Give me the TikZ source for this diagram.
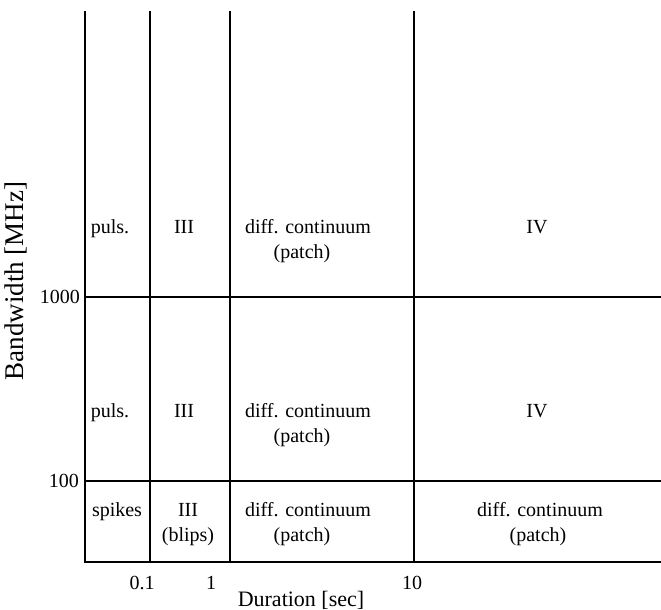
\documentclass[tikz,border=0pt]{standalone}
\usepackage{fontspec}
\setmainfont{Liberation Serif}
\begin{document}
\begin{tikzpicture}[x=1pt,y=-1pt,
  grid/.style={line width=1.6pt,line cap=rect},
  lbl/.style={font=\fontsize{20}{22}\selectfont,inner sep=0pt,anchor=base},
  tick/.style={font=\fontsize{20}{22}\selectfont,inner sep=0pt},
  axlbl/.style={font=\fontsize{22}{24}\selectfont,inner sep=0pt}]
\useasboundingbox (0,0) rectangle (661,610);
% grid
\draw[grid] (85,12) -- (85,562) -- (661,562);
\draw[grid] (150,12) -- (150,562);
\draw[grid] (230,12) -- (230,562);
\draw[grid] (414,12) -- (414,562);
\draw[grid] (85,297) -- (661,297);
\draw[grid] (85,481) -- (661,481);
% row 1
\node[lbl] (p1) at (110,233) {puls.};
\node[lbl] (t1) at (184,233) {III};
\node[lbl] (d1) at (308,233) {diff. continuum};
\node[lbl] (q1) at (302,258) {(patch)};
\node[lbl] (f1) at (537,233) {IV};
% row 2
\node[lbl] (p2) at (110,417) {puls.};
\node[lbl] (t2) at (184,417) {III};
\node[lbl] (d2) at (308,417) {diff. continuum};
\node[lbl] (q2) at (302,442) {(patch)};
\node[lbl] (f2) at (537,417) {IV};
% row 3
\node[lbl] (s3) at (117,516) {spikes};
\node[lbl] (t3) at (188,516) {III};
\node[lbl] (b3) at (188,541) {(blips)};
\node[lbl] (d3) at (308,516) {diff. continuum};
\node[lbl] (q3) at (302,541) {(patch)};
\node[lbl] (e3) at (540,516) {diff. continuum};
\node[lbl] (r3) at (538,541) {(patch)};
% y ticks
\node[tick,anchor=east] (y1000) at (80,297) {1000};
\node[tick,anchor=east] (y100) at (79,481) {100};
% x ticks
\node[tick] (x01) at (142,583) {0.1};
\node[tick] (x1) at (211,583) {1};
\node[tick] (x10) at (412,583) {10};
\node[axlbl] (xl) at (301,600) {Duration [sec]};
\node[axlbl,font=\fontsize{27}{29}\selectfont,rotate=90] (yl) at (16,281) {Bandwidth [MHz]};
\end{tikzpicture}
\end{document}
